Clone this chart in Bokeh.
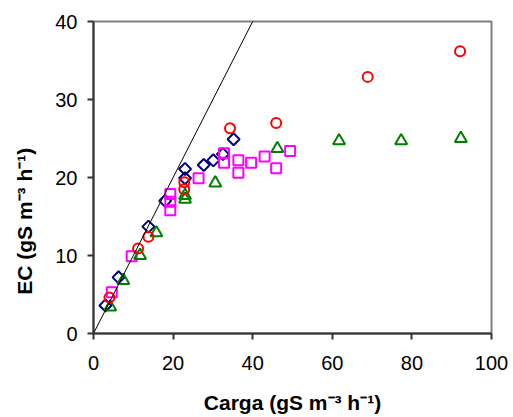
import numpy as np
from bokeh.plotting import figure
from bokeh.models import Range1d, FixedTicker
from bokeh.embed import file_html
from bokeh.resources import INLINE

# Series values (Carga, EC)
diamond_x = [3.0, 6.3, 13.8, 18.0, 23.0, 23.0, 27.7, 30.1, 32.5, 35.2]
diamond_y = [3.6, 7.2, 13.7, 17.0, 19.9, 21.1, 21.6, 22.2, 23.0, 24.9]

square_x = [4.6, 9.6, 19.3, 19.3, 19.3, 26.4, 32.8, 32.8, 36.4, 36.4, 39.6, 43.0, 45.9, 49.4]
square_y = [5.3, 9.9, 15.8, 16.9, 17.9, 19.9, 23.1, 21.9, 22.2, 20.6, 21.9, 22.7, 21.2, 23.4]

triangle_x = [4.2, 7.5, 11.7, 15.8, 23.0, 23.0, 30.6, 46.2, 61.7, 77.3, 92.3]
triangle_y = [3.4, 6.8, 10.0, 12.9, 17.2, 17.7, 19.3, 23.7, 24.7, 24.7, 25.0]

circle_x = [4.0, 11.2, 13.8, 22.8, 22.8, 34.3, 45.9, 68.9, 92.1]
circle_y = [4.6, 10.9, 12.4, 18.5, 19.4, 26.3, 27.0, 32.9, 36.2]

# 1:1 reference line
ref_x = [0, 41]
ref_y = [0, 41]

x_ticks = [0, 20, 40, 60, 80, 100]
y_ticks = [0, 10, 20, 30, 40]

x_title = "Carga (gS m\u207b\u00b3 h\u207b\u00b9)"
y_title = "EC (gS m\u207b\u00b3 h\u207b\u00b9)"

p = figure(width=513, height=417, output_backend="svg", toolbar_location=None,
           x_range=Range1d(0, 100), y_range=Range1d(0, 40),
           min_border_left=93, min_border_right=22, min_border_top=21, min_border_bottom=84)
p.background_fill_color = "white"
p.border_fill_color = "white"
p.outline_line_color = "#808080"
p.outline_line_width = 2
p.grid.visible = False

for ax in (p.xaxis, p.yaxis):
    ax.axis_line_color = "#333333"
    ax.axis_line_width = 2
    ax.major_tick_line_color = "#333333"
    ax.major_tick_line_width = 2
    ax.major_tick_out = 6
    ax.major_tick_in = 0
    ax.minor_tick_line_color = None
    ax.major_label_text_font = "Liberation Sans"
    ax.major_label_text_font_size = "20px"
    ax.major_label_text_color = "black"
    ax.axis_label_text_font = "Liberation Sans"
    ax.axis_label_text_font_style = "bold"
    ax.axis_label_text_font_size = "21px"
    ax.axis_label_text_color = "black"

p.xaxis.ticker = FixedTicker(ticks=x_ticks)
p.yaxis.ticker = FixedTicker(ticks=y_ticks)
p.xaxis.major_label_standoff = 16
p.yaxis.major_label_standoff = 10

p.xaxis.axis_label = x_title
p.xaxis.axis_label_standoff = 18
# trailing no-break spaces push the rotated title down, as in the reference
p.yaxis.axis_label = y_title + "\u00a0" * 15
p.yaxis.axis_label_standoff = 16

p.scatter(diamond_x, diamond_y, marker="square", angle=np.pi / 4, size=8.5,
          fill_color=None, line_color="#000080", line_width=2)
p.scatter(square_x, square_y, marker="square", size=10,
          fill_color=None, line_color="#FF00FF", line_width=2)
p.scatter(triangle_x, triangle_y, marker="triangle", size=12,
          fill_color=None, line_color="#008000", line_width=2)
p.scatter(circle_x, circle_y, marker="circle", size=10,
          fill_color=None, line_color="#FF0000", line_width=2)
p.line(ref_x, ref_y, line_color="black", line_width=1)

open("out.html", "w").write(file_html(p, INLINE))
